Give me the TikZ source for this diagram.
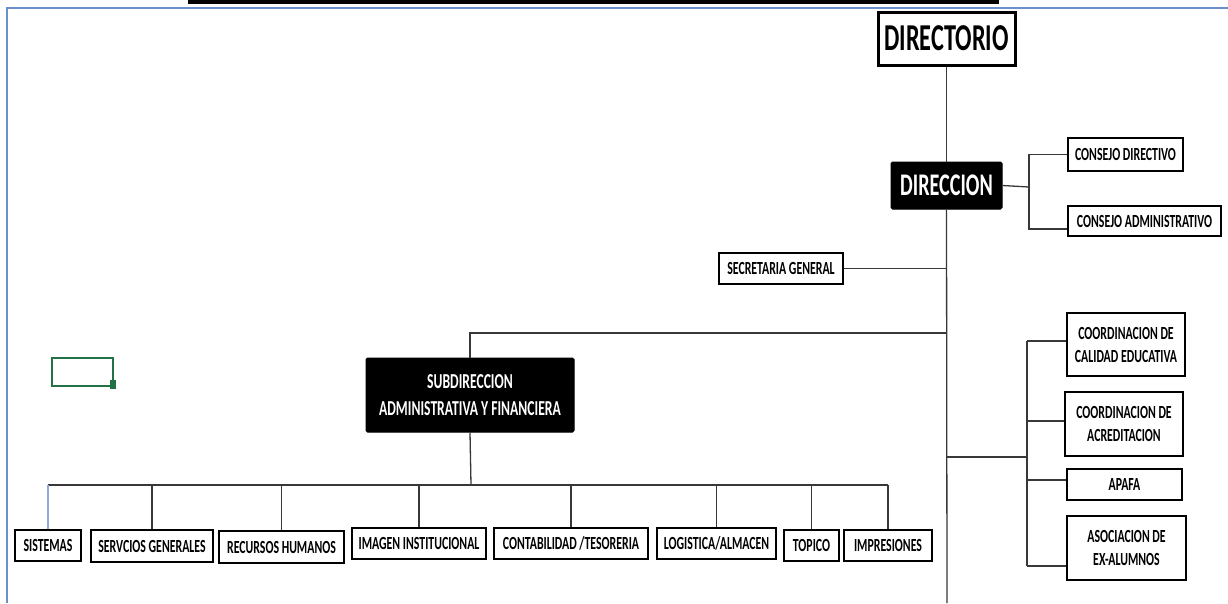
\documentclass[tikz,border=0pt]{standalone}
\usepackage{fontspec}
\newfontfamily\cf[FakeStretch=0.64]{Carlito}
\definecolor{wordblue}{HTML}{6A8FCC}
\definecolor{xlgreen}{HTML}{217346}
\definecolor{lightblue}{HTML}{8EAADB}
\begin{document}
\begin{tikzpicture}[x=1pt,y=-1pt,
  box/.style={draw=black, line width=2.5pt, fill=white, inner sep=0pt, align=center,
    font=\cf\bfseries\fontsize{18.5}{23}\selectfont},
  darkbox/.style={draw=black, fill=black, text=white, rounded corners=1.5pt, line width=1pt,
    inner sep=0pt, align=center},
  conn/.style={line width=1.3pt, draw=black!78},
  bluerule/.style={line width=2pt, draw=wordblue}]
\useasboundingbox[fill=white] (0,0) rectangle (1228,603);
% page decorations
\fill[black] (188,0) rectangle (999,4);
\draw[bluerule] (7,603) -- (7,7.5) -- (1228,7.5);
\draw[xlgreen, line width=2pt] (52,358) rectangle (113,386);
\fill[xlgreen] (110,380) rectangle (116,389);

% nodes
\node[box, line width=3pt, minimum width=137pt, minimum height=53pt,
  font=\cf\bfseries\fontsize{38}{42}\selectfont] (directorio) at (946.5,38.5) {DIRECTORIO};
\node[darkbox, minimum width=111pt, minimum height=47pt,
  font=\cf\bfseries\fontsize{31.5}{36}\selectfont] (direccion) at (946.5,185.5) {DIRECCION};
\node[box, minimum width=115pt, minimum height=33pt] (cdir) at (1125.5,154.5) {CONSEJO DIRECTIVO};
\node[box, minimum width=153pt, minimum height=30pt] (cadm) at (1144.5,221) {\raisebox{-5pt}{CONSEJO ADMINISTRATIVO}};
\node[box, minimum width=124pt, minimum height=31pt] (secg) at (781,268.5) {SECRETARIA GENERAL};
\node[darkbox, minimum width=208pt, minimum height=74pt,
  font=\cf\bfseries\fontsize{21.3}{27}\selectfont] (subdir) at (470,395) {SUBDIRECCION\\ADMINISTRATIVA Y FINANCIERA};
\node[box, minimum width=118pt, minimum height=63pt] (cal) at (1126,344.5) {COORDINACION DE\\CALIDAD EDUCATIVA};
\node[box, minimum width=118pt, minimum height=64pt] (acr) at (1124,424) {COORDINACION DE\\ACREDITACION};
\node[box, minimum width=115pt, minimum height=31pt] (apafa) at (1124.5,484.5) {APAFA};
\node[box, minimum width=119pt, minimum height=64pt] (asoc) at (1126.5,548) {ASOCIACION DE\\EX-ALUMNOS};
% bottom row
\node[box, minimum width=66pt, minimum height=31pt] (sis) at (48,545.5) {SISTEMAS};
\node[box, minimum width=122pt, minimum height=32pt] (serv) at (152,546) {SERVCIOS GENERALES};
\node[box, minimum width=125pt, minimum height=32pt] (rec) at (281.5,547) {RECURSOS HUMANOS};
\node[box, minimum width=134pt, minimum height=31pt] (img) at (419,543.5) {IMAGEN INSTITUCIONAL};
\node[box, minimum width=154pt, minimum height=31pt] (cont) at (571,543.5) {CONTABILIDAD /TESORERIA};
\node[box, minimum width=119pt, minimum height=31pt] (log) at (716.5,543.5) {LOGISTICA/ALMACEN};
\node[box, minimum width=55pt, minimum height=31pt] (top) at (811.5,545.5) {TOPICO};
\node[box, minimum width=88pt, minimum height=31pt] (imp) at (888,545.5) {IMPRESIONES};

% junction coordinates
\coordinate (bot) at (947,603);
\coordinate (jc) at (1029,187);
\coordinate (ja) at (1029,229);
\coordinate (ca) at (1067,229);
\coordinate (jsub) at (947,333);
\coordinate (hb) at (471,485);
\coordinate (jr) at (1027,457);
\coordinate (b1) at (1027,341);
\coordinate (b2) at (1027,421);
\coordinate (b3) at (1027,480);
\coordinate (b4) at (1027,566);

% connectors
\draw[conn] (directorio.south) -- (direccion.north);
\draw[conn] (direccion.south) -- (bot);
\draw[conn] (direccion.east) -- (jc);
\draw[conn] (cdir.west) -| (ja) -- (ca);
\draw[conn] (secg.east) -- (secg.east -| bot);
\draw[conn] (jsub) -- (jsub -| subdir.north) -- (subdir.north);
\draw[conn] (subdir.south) -- (hb);
\draw[conn] (hb -| sis.north) -- (hb -| imp.north);
\draw[line width=1.3pt, draw=lightblue] (hb -| sis.north) -- (sis.north);
\foreach \n in {serv,rec,img,cont,log,top,imp}
  \draw[conn] (hb -| \n.north) -- (\n.north);
\draw[conn] (jr -| bot) -- (jr);
\draw[conn] (b1) -- (b4);
\draw[conn] (b1) -- (b1 -| cal.west);
\draw[conn] (b2) -- (b2 -| acr.west);
\draw[conn] (b3) -- (b3 -| apafa.west);
\draw[conn] (b4) -- (b4 -| asoc.west);
\end{tikzpicture}
\end{document}
